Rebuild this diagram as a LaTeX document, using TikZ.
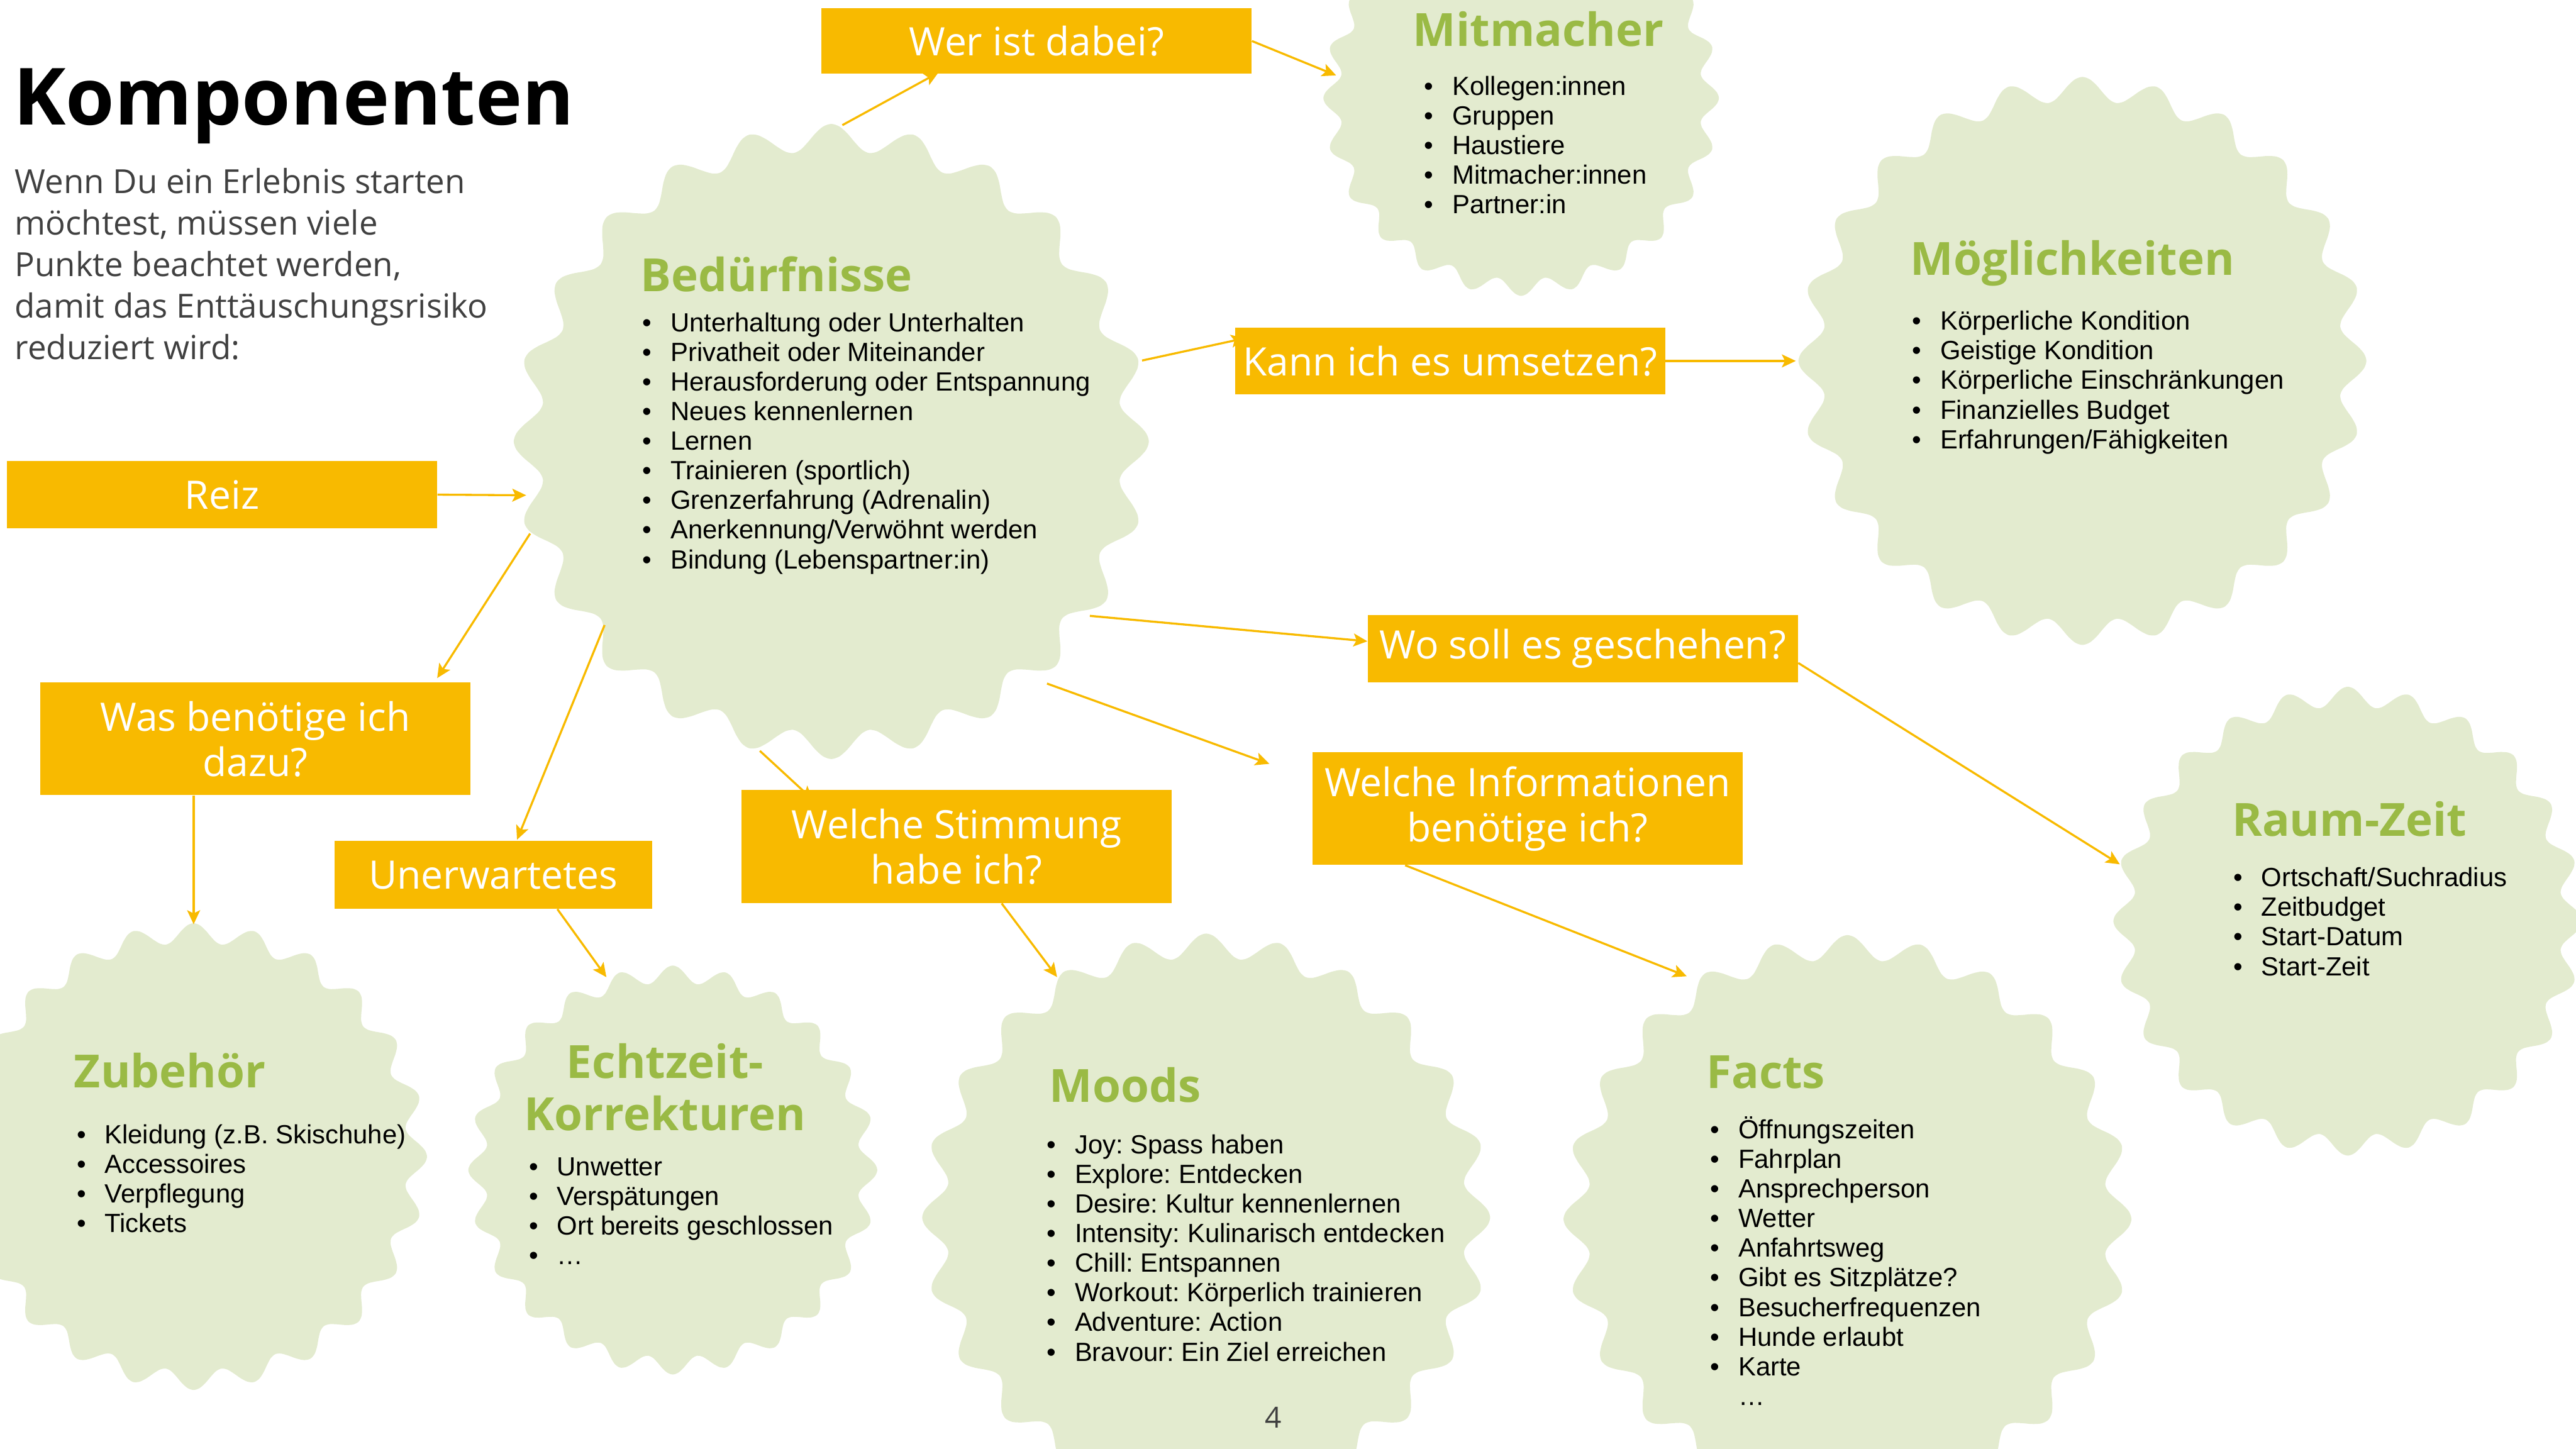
\documentclass[tikz,border=0pt]{standalone}
\usepackage{fontspec}
\setmainfont{Open Sans}
\newfontfamily\listfont{Liberation Sans}
\usepackage{xcolor}
\usetikzlibrary{positioning,arrows.meta,calc,backgrounds}
\frenchspacing

\definecolor{boxorange}{HTML}{F8BA00}
\definecolor{headgreen}{HTML}{9ABA45}
\definecolor{sealfill}{HTML}{E3EBCF}
\definecolor{introgray}{HTML}{404040}

% wavy seal: name, x, y, radius
\newcommand{\seal}[4]{%
  \coordinate (#1) at (#2,#3);
  \fill[sealfill] plot[smooth cycle,domain=0:358.5,samples=240]
    ({#2+#4*(0.958+0.042*cos(24*\x))*cos(\x)},{#3+#4*(0.958+0.042*cos(24*\x))*sin(\x)});
}
% bullet lines: name, x, y of first baseline, items
\newcommand{\bulletlist}[4]{%
  \foreach \entry [count=\i] in {#4}
    \node[item] (#1-\i) at ({#2},{#3-0.574*(\i-1)}) {\makebox[0.54cm][l]{\textbullet}\entry};
}

\begin{document}
\begin{tikzpicture}[
  qbox/.style={fill=boxorange,text=white,minimum width=8.33cm,minimum height=1.30cm,
    inner sep=0pt,align=center,font=\fontsize{21.6}{25}\selectfont},
  head/.style={anchor=base west,inner sep=0pt,text=headgreen,
    font=\fontsize{25.2}{29}\selectfont\bfseries},
  item/.style={anchor=base west,inner sep=0pt,font=\listfont\fontsize{14.5}{16}\selectfont},
  link/.style={draw=boxorange,line width=1.15pt,-{Stealth[length=2.7mm,width=2.5mm,inset=0.6mm]}}]
\useasboundingbox (0,0) rectangle (49.89,-28.06);
\clip (0,0) rectangle (49.89,-28.06);

\begin{scope}[on background layer]
\seal{bed}{16.10}{-8.55}{6.15}
\seal{mit}{29.46}{-1.90}{3.83}
\seal{moeg}{40.33}{-6.99}{5.50}
\seal{raum}{45.47}{-17.84}{4.54}
\seal{zub}{3.75}{-22.40}{4.52}
\seal{echt}{13.03}{-22.66}{3.96}
\seal{moods}{23.36}{-23.58}{5.50}
\seal{facts}{35.78}{-23.61}{5.50}
\end{scope}

% title and intro
\node[anchor=base west,inner sep=0pt,font=\fontsize{43.5}{48}\selectfont\bfseries] (title) at (0.25,-2.42) {Komponenten};
\node[anchor=base west,inner sep=0pt,text=introgray,font=\fontsize{18.3}{22.8}\selectfont] (intro) at (0.28,-3.75)
  {\begin{tabular}[t]{@{}l@{}}Wenn Du ein Erlebnis starten\\ möchtest, müssen viele\\ Punkte beachtet werden,\\ damit das Enttäuschungsrisiko\\ reduziert wird:\end{tabular}};

% question boxes
\node[qbox,minimum height=1.27cm] (wer) at (20.075,-0.795) {Wer ist dabei?};
\node[qbox] (reiz) at (4.30,-9.58) {Reiz};
\node[qbox,minimum height=2.18cm] (wasbraucht) at (4.945,-14.31) {Was benötige ich\\ dazu?};
\node[qbox,minimum width=6.15cm,minimum height=1.31cm] (unerw) at (9.555,-16.945) {Unerwartetes};
\node[qbox,minimum height=2.19cm] (stimmung) at (18.53,-16.395) {Welche Stimmung\\ habe ich?};
\node[qbox] (kann) at (28.085,-6.99) {Kann ich es umsetzen?};
\node[qbox] (wo) at (30.655,-12.56) {Wo soll es geschehen?};
\node[qbox,minimum height=2.18cm] (infos) at (29.585,-15.66) {Welche Informationen\\ benötige ich?};

\begin{scope}[on background layer]
\draw[link] (reiz.east) -- ($(bed)+(190:6.0)$);
\draw[link] ($(bed)+(197:6.1)$) -- ([xshift=-0.65cm,yshift=0.08cm]wasbraucht.north east);
\draw[link] (wasbraucht.south -| zub) -- ($(zub)+(90:4.50)$);
\draw[link] ($(bed)+(219:5.65)$) -- ([xshift=3.54cm,yshift=0.02cm]unerw.north west);
\draw[link] ([xshift=1.24cm]unerw.south) -- ($(echt)+(109:3.95)$);
\draw[link] ($(bed)+(257:6.15)$) -- ([xshift=1.39cm,yshift=-0.2cm]stimmung.north west);
\draw[link] ([xshift=0.87cm]stimmung.south) -- ($(moods)+(121.8:5.48)$);
\draw[link] ($(bed)+(88:6.13)$) -- ([xshift=2.27cm,yshift=0.03cm]wer.south west);
\draw[link] (wer.east) -- ($(mit)+(173:3.61)$);
\draw[link] ($(bed)+(14.6:6.22)$) -- ([xshift=0.2cm,yshift=0.44cm]kann.west);
\draw[link] (kann.east) -- ($(moeg)+(180:5.55)$);
\draw[link] ($(bed)+(-34:6.04)$) -- ([yshift=0.14cm]wo.west);
\draw[link] ([yshift=-0.28cm]wo.east) -- ($(raum)+(166:4.55)$);
\draw[link] ($(bed)+(-48.3:6.28)$) -- ([xshift=-0.83cm,yshift=-0.23cm]infos.north west);
\draw[link] ([xshift=1.80cm]infos.south west) -- ($(facts)+(123.5:5.64)$);
\end{scope}

% seal contents
\node[head] (bedhead) at (12.40,-5.65) {Bedürfnisse};
\bulletlist{bedlist}{12.44}{-6.42}{Unterhaltung oder Unterhalten,Privatheit oder Miteinander,Herausforderung oder Entspannung,Neues kennenlernen,Lernen,Trainieren (sportlich),Grenzerfahrung (Adrenalin),Anerkennung/Verwöhnt werden,Bindung (Lebenspartner:in)}

\node[head] (mithead) at (27.36,-0.90) {Mitmacher};
\bulletlist{mitlist}{27.58}{-1.84}{Kollegen:innen,Gruppen,Haustiere,Mitmacher:innen,Partner:in}

\node[head] (moeghead) at (36.99,-5.33) {Möglichkeiten};
\bulletlist{moeglist}{37.03}{-6.39}{Körperliche Kondition,Geistige Kondition,Körperliche Einschränkungen,Finanzielles Budget,Erfahrungen/Fähigkeiten}

\node[head] (raumhead) at (43.22,-16.19) {Raum-Zeit};
\bulletlist{raumlist}{43.25}{-17.17}{Ortschaft/Suchradius,Zeitbudget,Start-Datum,Start-Zeit}

\node[head] (zubhead) at (1.43,-21.07) {Zubehör};
\bulletlist{zublist}{1.48}{-22.15}{Kleidung (z.B. Skischuhe),Accessoires,Verpflegung,Tickets}

\node[head,anchor=base] (echthead) at (12.88,-20.88) {\begin{tabular}[t]{@{}c@{}}Echtzeit-\\ Korrekturen\end{tabular}};
\bulletlist{echtlist}{10.24}{-22.77}{Unwetter,Verspätungen,Ort bereits geschlossen,…}

\node[head] (moodshead) at (20.32,-21.35) {Moods};
\bulletlist{moodslist}{20.27}{-22.34}{Joy: Spass haben,Explore: Entdecken,Desire: Kultur kennenlernen,Intensity: Kulinarisch entdecken,Chill: Entspannen,Workout: Körperlich trainieren,Adventure: Action,Bravour: Ein Ziel erreichen}

\node[head] (factshead) at (33.04,-21.08) {Facts};
\bulletlist{factslist}{33.12}{-22.05}{Öffnungszeiten,Fahrplan,Ansprechperson,Wetter,Anfahrtsweg,Gibt es Sitzplätze?,Besucherfrequenzen,Hunde erlaubt,Karte}
\node[item] (factsmore) at (33.66,-27.22) {…};

% page number
\node[anchor=base,inner sep=0pt,text=introgray,font=\fontsize{16}{18}\selectfont] (pagenum) at (24.66,-27.66) {4};
\end{tikzpicture}
\end{document}
